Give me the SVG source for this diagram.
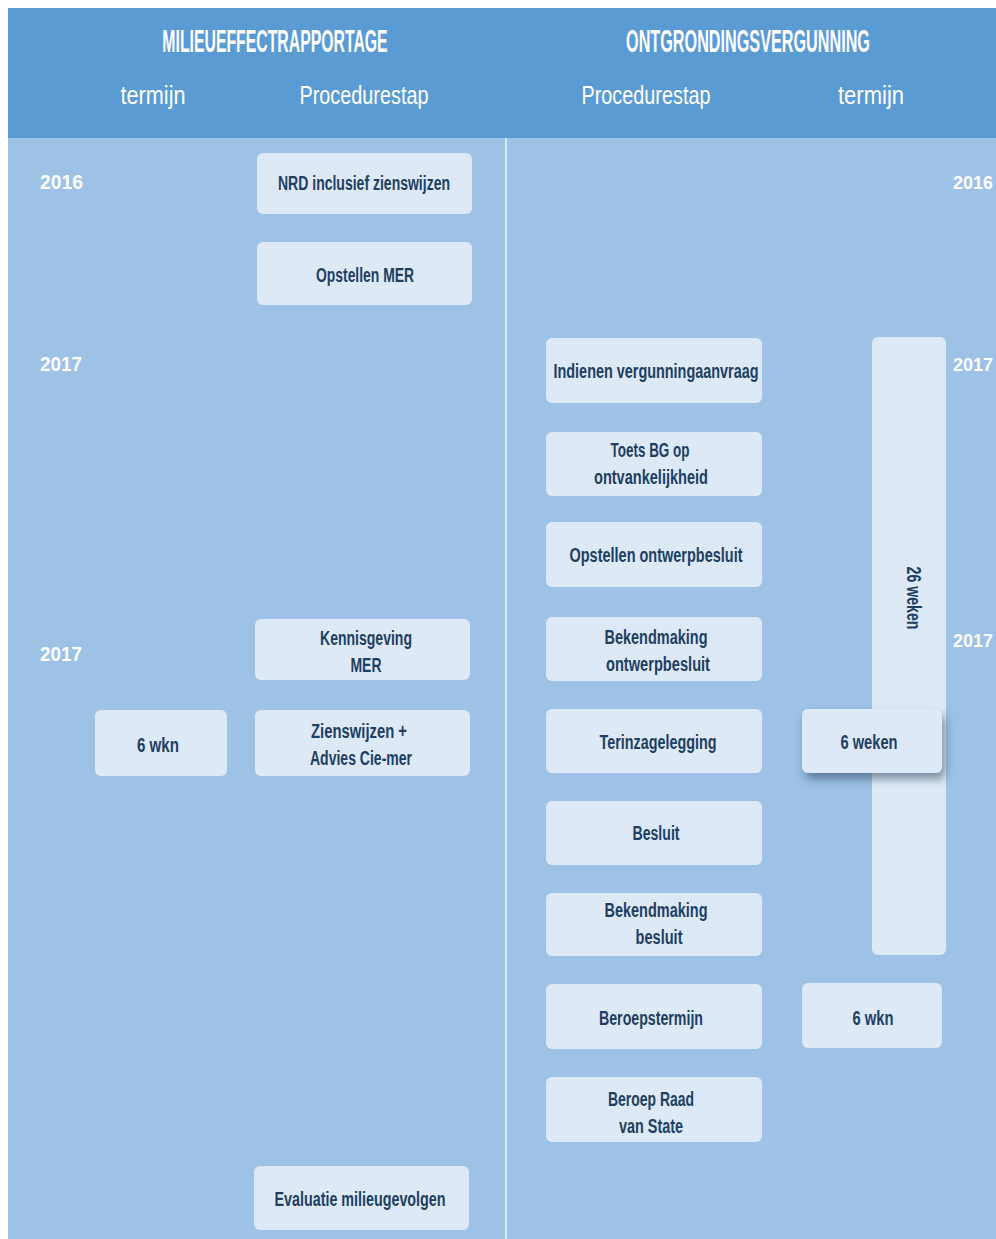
<svg xmlns="http://www.w3.org/2000/svg" width="996" height="1239" viewBox="0 0 996 1239">
<defs>
<style>
.box{fill:#dde9f6;}
.t{font-family:"Liberation Sans",Arial,sans-serif;font-weight:bold;font-size:20px;fill:#1e3f62;text-anchor:middle;}
.yr{font-family:"Liberation Sans",Arial,sans-serif;font-weight:bold;font-size:20px;fill:#ffffff;}
.yr2{font-family:"Liberation Sans",Arial,sans-serif;font-weight:bold;font-size:19px;fill:#ffffff;}
.h1{font-family:"Liberation Sans",Arial,sans-serif;font-weight:bold;font-size:31px;fill:#ffffff;text-anchor:middle;}
.h2{font-family:"Liberation Sans",Arial,sans-serif;font-size:26px;fill:#ffffff;text-anchor:middle;}
</style>
<filter id="sh" x="-30%" y="-30%" width="160%" height="180%">
<feDropShadow dx="3" dy="6" stdDeviation="5" flood-color="#2a3f55" flood-opacity="0.55"/>
</filter>
</defs>
<rect x="0" y="0" width="996" height="1239" fill="#ffffff"/>
<rect x="8" y="8" width="988" height="1231" fill="#9dc2e5"/>
<rect x="8" y="8" width="988" height="130" fill="#5b9bd4"/>
<g id="header">
<text class="h1" transform="translate(275,52) scale(0.51,1)" x="0" y="0">MILIEUEFFECTRAPPORTAGE</text>
<text class="h1" transform="translate(748,52) scale(0.523,1)" x="0" y="0">ONTGRONDINGSVERGUNNING</text>
<text class="h2" x="153" y="104" textLength="65" lengthAdjust="spacingAndGlyphs">termijn</text>
<text class="h2" x="364" y="104" textLength="129" lengthAdjust="spacingAndGlyphs">Procedurestap</text>
<text class="h2" x="646" y="104" textLength="129" lengthAdjust="spacingAndGlyphs">Procedurestap</text>
<text class="h2" x="871" y="104" textLength="66" lengthAdjust="spacingAndGlyphs">termijn</text>
</g>
<g id="connectors">
<line x1="506" y1="138" x2="506" y2="1239" stroke="#dbe8f5" stroke-width="2"/>
</g>
<g id="years">
<text class="yr" x="40" y="189" textLength="43" lengthAdjust="spacingAndGlyphs">2016</text>
<text class="yr" x="40" y="371" textLength="42" lengthAdjust="spacingAndGlyphs">2017</text>
<text class="yr" x="40" y="661" textLength="42" lengthAdjust="spacingAndGlyphs">2017</text>
<text class="yr2" x="953" y="189" textLength="40" lengthAdjust="spacingAndGlyphs">2016</text>
<text class="yr2" x="953" y="371" textLength="40" lengthAdjust="spacingAndGlyphs">2017</text>
<text class="yr2" x="953" y="647" textLength="40" lengthAdjust="spacingAndGlyphs">2017</text>
</g>
<g id="bar-26weken">
<rect class="box" x="872" y="337" width="74" height="618" rx="6"/>
<text class="t" transform="translate(907,598) rotate(90)" x="0" y="0" textLength="63" lengthAdjust="spacingAndGlyphs">26 weken</text>
</g>
<g id="nrd"><rect class="box" x="257" y="153" width="215" height="61" rx="6"/><text class="t" x="364" y="190" textLength="172" lengthAdjust="spacingAndGlyphs">NRD inclusief zienswijzen</text></g>
<g id="opstellen-mer"><rect class="box" x="257" y="242" width="215" height="63" rx="6"/><text class="t" x="365" y="282" textLength="98" lengthAdjust="spacingAndGlyphs">Opstellen MER</text></g>
<g id="kennisgeving"><rect class="box" x="255" y="619" width="215" height="61" rx="6"/><text class="t" x="366" y="645" textLength="92" lengthAdjust="spacingAndGlyphs">Kennisgeving</text><text class="t" x="366" y="672" textLength="31" lengthAdjust="spacingAndGlyphs">MER</text></g>
<g id="zienswijzen"><rect class="box" x="255" y="710" width="215" height="66" rx="6"/><text class="t" x="359" y="738" textLength="96" lengthAdjust="spacingAndGlyphs">Zienswijzen +</text><text class="t" x="361" y="765" textLength="102" lengthAdjust="spacingAndGlyphs">Advies Cie-mer</text></g>
<g id="wkn-left"><rect class="box" x="95" y="710" width="132" height="66" rx="6"/><text class="t" x="158" y="752" textLength="42" lengthAdjust="spacingAndGlyphs">6 wkn</text></g>
<g id="evaluatie"><rect class="box" x="254" y="1166" width="215" height="64" rx="6"/><text class="t" x="360" y="1206" textLength="171" lengthAdjust="spacingAndGlyphs">Evaluatie milieugevolgen</text></g>
<g id="indienen"><rect class="box" x="546" y="338" width="216" height="65" rx="6"/><text class="t" x="656" y="378" textLength="205" lengthAdjust="spacingAndGlyphs">Indienen vergunningaanvraag</text></g>
<g id="toets"><rect class="box" x="546" y="432" width="216" height="64" rx="6"/><text class="t" x="650" y="457" textLength="79" lengthAdjust="spacingAndGlyphs">Toets BG op</text><text class="t" x="651" y="484" textLength="114" lengthAdjust="spacingAndGlyphs">ontvankelijkheid</text></g>
<g id="ontwerpbesluit"><rect class="box" x="546" y="522" width="216" height="65" rx="6"/><text class="t" x="656" y="562" textLength="173" lengthAdjust="spacingAndGlyphs">Opstellen ontwerpbesluit</text></g>
<g id="bekendmaking-ontwerp"><rect class="box" x="546" y="617" width="216" height="64" rx="6"/><text class="t" x="656" y="644" textLength="103" lengthAdjust="spacingAndGlyphs">Bekendmaking</text><text class="t" x="658" y="671" textLength="104" lengthAdjust="spacingAndGlyphs">ontwerpbesluit</text></g>
<g id="terinzagelegging"><rect class="box" x="546" y="709" width="216" height="64" rx="6"/><text class="t" x="658" y="749" textLength="117" lengthAdjust="spacingAndGlyphs">Terinzagelegging</text></g>
<g id="besluit"><rect class="box" x="546" y="801" width="216" height="64" rx="6"/><text class="t" x="656" y="840" textLength="47" lengthAdjust="spacingAndGlyphs">Besluit</text></g>
<g id="bekendmaking-besluit"><rect class="box" x="546" y="893" width="216" height="63" rx="6"/><text class="t" x="656" y="917" textLength="103" lengthAdjust="spacingAndGlyphs">Bekendmaking</text><text class="t" x="659" y="944" textLength="47" lengthAdjust="spacingAndGlyphs">besluit</text></g>
<g id="beroepstermijn"><rect class="box" x="546" y="984" width="216" height="65" rx="6"/><text class="t" x="651" y="1025" textLength="104" lengthAdjust="spacingAndGlyphs">Beroepstermijn</text></g>
<g id="beroep-rvs"><rect class="box" x="546" y="1077" width="216" height="65" rx="6"/><text class="t" x="651" y="1106" textLength="86" lengthAdjust="spacingAndGlyphs">Beroep Raad</text><text class="t" x="651" y="1133" textLength="64" lengthAdjust="spacingAndGlyphs">van State</text></g>
<g id="weken-6"><rect class="box" x="802" y="709" width="140" height="64" rx="6" filter="url(#sh)"/><text class="t" x="869" y="749" textLength="57" lengthAdjust="spacingAndGlyphs">6 weken</text></g>
<g id="wkn-right"><rect class="box" x="802" y="983" width="140" height="65" rx="6"/><text class="t" x="873" y="1025" textLength="41" lengthAdjust="spacingAndGlyphs">6 wkn</text></g>
</svg>
